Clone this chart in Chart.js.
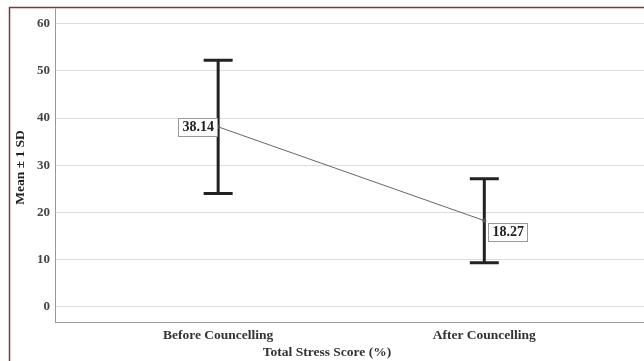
<!DOCTYPE html>
<html>
<head>
<meta charset="utf-8">
<script src="https://cdn.jsdelivr.net/npm/chart.js@4"></script>
<style>
  html, body { margin: 0; padding: 0; background: #fff; }
  #wrap { width: 644px; height: 361px; position: relative; }
</style>
</head>
<body>
<div id="wrap"><canvas id="c" width="644" height="361"></canvas></div>
<script>
// data
var categories = ["Before Councelling", "After Councelling"];
var means = [38.14, 18.27];
var sds = [14.1, 8.9];
var yTicks = [0, 10, 20, 30, 40, 50, 60];
var xTitle = "Total Stress Score (%)";
var yTitle = "Mean \u00b1 1 SD";

var serif = "'Liberation Serif', 'DejaVu Serif', serif";

var points = [];
for (var i = 0; i < means.length; i++) points.push({ x: i, y: means[i] });

// frame (top and left rule of the figure)
var framePlugin = {
  id: 'frame',
  beforeDraw: function (chart) {
    var ctx = chart.ctx;
    ctx.save();
    ctx.fillStyle = '#fff';
    ctx.fillRect(0, 0, chart.width, chart.height);
    ctx.strokeStyle = '#7a3a3a';
    ctx.lineWidth = 1.5;
    ctx.beginPath();
    ctx.moveTo(9.5, chart.height);
    ctx.lineTo(9.5, 7.5);
    ctx.lineTo(chart.width, 7.5);
    ctx.stroke();
    // y axis line runs up to the frame
    var a = chart.chartArea;
    ctx.strokeStyle = '#999';
    ctx.lineWidth = 1;
    ctx.beginPath();
    ctx.moveTo(a.left + 0.5, a.top);
    ctx.lineTo(a.left + 0.5, 8.5);
    ctx.stroke();
    ctx.restore();
  }
};

// error bars + value boxes + x title
var errPlugin = {
  id: 'errbars',
  afterDatasetsDraw: function (chart) {
    var ctx = chart.ctx;
    var xs = chart.scales.x, ys = chart.scales.y;
    ctx.save();
    ctx.strokeStyle = '#222';
    ctx.lineWidth = 3;
    for (var i = 0; i < means.length; i++) {
      var px = xs.getPixelForValue(i);
      var top = ys.getPixelForValue(means[i] + sds[i]);
      var bot = ys.getPixelForValue(means[i] - sds[i]);
      ctx.beginPath();
      ctx.moveTo(px, top); ctx.lineTo(px, bot);
      ctx.moveTo(px - 14.5, top); ctx.lineTo(px + 14.5, top);
      ctx.moveTo(px - 14.5, bot); ctx.lineTo(px + 14.5, bot);
      ctx.stroke();
    }
    // mean dots
    ctx.fillStyle = '#555';
    for (var i = 0; i < means.length; i++) {
      ctx.beginPath();
      ctx.arc(xs.getPixelForValue(i), ys.getPixelForValue(means[i]), 2, 0, Math.PI * 2);
      ctx.fill();
    }
    // value labels
    ctx.font = "bold 14px " + serif;
    ctx.textBaseline = 'middle';
    ctx.textAlign = 'center';
    for (var i = 0; i < means.length; i++) {
      var px = xs.getPixelForValue(i);
      var py = ys.getPixelForValue(means[i]);
      var txt = means[i].toFixed(2);
      var w = 39, h = 18, bx, by;
      if (i == 0) { bx = px - w - 1; by = py - h / 2; }
      else { bx = px + 4; by = py + 2; }
      ctx.fillStyle = '#fff';
      ctx.fillRect(bx, by, w, h);
      ctx.strokeStyle = '#999';
      ctx.lineWidth = 1;
      ctx.strokeRect(Math.round(bx) + 0.5, Math.round(by) + 0.5, w, h);
      ctx.fillStyle = '#222';
      ctx.fillText(txt, bx + w / 2 + 0.5, by + h / 2 + 1);
    }
    // x axis title
    ctx.font = "bold 13.5px " + serif;
    ctx.fillStyle = '#333';
    ctx.textBaseline = 'middle';
    ctx.fillText(xTitle, 327, 353);
    ctx.restore();
  }
};

new Chart(document.getElementById('c'), {
  type: 'line',
  data: {
    datasets: [{
      data: points,
      borderColor: '#666',
      borderWidth: 1,
      pointRadius: 0,
      fill: false
    }]
  },
  options: {
    responsive: false,
    animation: false,
    events: [],
    layout: { padding: { top: 6, right: 0, left: 0, bottom: 0 } },
    plugins: { legend: { display: false }, tooltip: { enabled: false } },
    scales: {
      x: {
        type: 'linear',
        min: -0.613,
        max: 1.6,
        afterBuildTicks: function (s) { s.ticks = categories.map(function (c, i) { return { value: i }; }); },
        afterFit: function (s) { s.height = 39; },
        grid: { display: false, drawTicks: false },
        border: { color: '#999', width: 1 },
        ticks: {
          padding: 5,
          color: '#333',
          font: { family: serif, size: 13.5, weight: 'bold' },
          callback: function (v) { return categories[v]; }
        }
      },
      y: {
        min: -3.2,
        max: 62.3,
        afterBuildTicks: function (s) { s.ticks = yTicks.map(function (v) { return { value: v }; }); },
        afterFit: function (s) { s.width = 55; },
        grid: { color: '#dcdcdc', drawTicks: false, lineWidth: 1 },
        border: { color: '#999', width: 1 },
        ticks: {
          padding: 5,
          color: '#444',
          font: { family: serif, size: 13, weight: 'bold' }
        },
        title: {
          display: true,
          text: yTitle,
          color: '#222',
          padding: { top: 12, bottom: 0 },
          font: { family: serif, size: 13.5, weight: 'bold' }
        }
      }
    }
  },
  plugins: [framePlugin, errPlugin]
});
</script>
</body>
</html>
